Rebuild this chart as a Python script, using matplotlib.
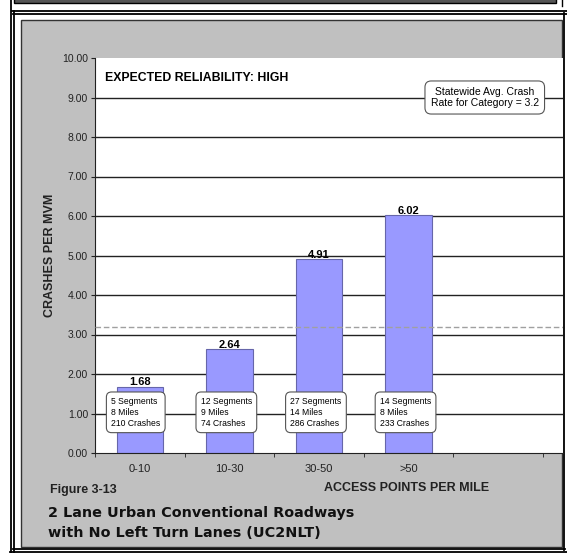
import matplotlib
matplotlib.use('Agg')
from matplotlib import pyplot as plt
from matplotlib.patches import Rectangle
from matplotlib.lines import Line2D

# chart data
categories = ['0-10', '10-30', '30-50', '>50']
crash_rate = [1.68, 2.64, 4.91, 6.02]
segments = [5, 12, 27, 14]
miles = [8, 9, 14, 8]
crashes = [210, 74, 286, 233]
statewide_avg = 3.2

W, H = 567, 553
fig = plt.figure(figsize=(W / 100, H / 100), dpi=100)
fig.patch.set_facecolor('white')


def px_rect(x0, y0, x1, y1, **kw):
    # rectangle in pixel coords, y measured from the top
    r = Rectangle((x0 / W, 1 - y1 / H), (x1 - x0) / W, (y1 - y0) / H,
                  transform=fig.transFigure, **kw)
    fig.add_artist(r)


def px_line(xs, ys, **kw):
    fig.add_artist(Line2D([x / W for x in xs], [1 - y / H for y in ys],
                          transform=fig.transFigure, **kw))


# frames around the figure
px_rect(14, -5, 556, 2.5, facecolor='#555555', edgecolor='black', lw=1)
px_line([562, 562], [0, 6], color='black', lw=1)
px_line([10.5, 10.5], [0, 553], color='black', lw=1.3)
px_line([13.5, 13.5], [11, 553], color='black', lw=1.3)
px_line([12, 567], [10.5, 10.5], color='black', lw=1.3)
px_line([13, 567], [13.5, 13.5], color='black', lw=1.3)
px_line([564, 564], [13, 550], color='black', lw=1.3)
px_line([13, 565], [549, 549], color='black', lw=1.3)
px_line([10, 567], [552, 552], color='black', lw=1.3)
px_rect(21, 19.5, 562, 547, facecolor='#C0C0C0', edgecolor='#333333', lw=1)

left, right, top, bottom = 95, 563, 58, 453
ax = fig.add_axes([left / W, 1 - bottom / H, (right - left) / W, (bottom - top) / H])
ax.set_facecolor('white')
ax.set_zorder(2)

xs = list(range(len(categories)))
ax.set_ylim(0, 10)
ax.set_xlim(-0.5, -0.5 + (right - left) / 89.6)
ax.set_yticks([i for i in range(11)])
ax.set_yticklabels(['{:.2f}'.format(i) for i in range(11)], fontsize=7.5,
                   family='Liberation Sans', color='#222222')
ax.set_xticks(xs)
ax.set_xticklabels(categories, fontsize=8, family='Liberation Sans', color='#222222')
ax.set_xticks([i - 0.5 for i in range(6)], minor=True)
ax.tick_params(axis='x', which='major', length=0, pad=8)
ax.tick_params(axis='x', which='minor', length=3, direction='out', color='#222222')
ax.tick_params(axis='y', length=3, direction='out', color='#222222', pad=2)

for y in range(1, 10):
    ax.axhline(y, color='#222222', lw=1, zorder=1)

ax.bar(xs, crash_rate, width=0.52, color='#9999FF', edgecolor='#6666AA', lw=0.8, zorder=2)
ax.axhline(statewide_avg, color='#A0A0A0', lw=1, ls=(0, (4, 2)), zorder=3)

for i, v in enumerate(crash_rate):
    ax.text(xs[i], v - 0.02, '{:.2f}'.format(v), ha='center', va='bottom',
            fontsize=8, fontweight='bold', family='Liberation Sans', zorder=5)
    info = f'{segments[i]} Segments\n{miles[i]} Miles\n{crashes[i]} Crashes'
    ax.text(xs[i] - 0.32, 1.03, info, ha='left', va='center', fontsize=6.2,
            family='Liberation Sans', linespacing=1.3, zorder=6,
            bbox=dict(boxstyle='round,pad=0.55,rounding_size=0.6', fc='white',
                      ec='#555555', lw=0.8))

ax.text(-0.39, 9.5, 'EXPECTED RELIABILITY: HIGH', ha='left', va='center',
        fontsize=8.8, fontweight='bold', family='Liberation Sans', zorder=5)
ax.text(3.85, 9.0, 'Statewide Avg. Crash\nRate for Category = 3.2', ha='center', va='center',
        fontsize=7.5, family='Liberation Sans', linespacing=1.2, zorder=6,
        bbox=dict(boxstyle='round,pad=0.55,rounding_size=0.6', fc='white', ec='#555555', lw=0.8))

for side in ['top', 'right']:
    ax.spines[side].set_visible(False)
ax.spines['left'].set_color('#222222')
ax.spines['bottom'].set_color('#222222')

ax.set_ylabel('CRASHES PER MVM', fontsize=9, fontweight='bold',
              family='Liberation Sans', color='#222222')
ax.yaxis.set_label_coords((56 - left) / (right - left), 0.5)
fig.text(407 / W, 1 - 488 / H, 'ACCESS POINTS PER MILE', ha='center', va='center',
         fontsize=9, fontweight='bold', family='Liberation Sans', color='#222222')
fig.text(50 / W, 1 - 490 / H, 'Figure 3-13', ha='left', va='center',
         fontsize=9, fontweight='bold', family='Liberation Sans', color='#222222')
fig.text(48 / W, 1 - 513 / H, '2 Lane Urban Conventional Roadways', ha='left', va='center',
         fontsize=10.4, fontweight='bold', family='DejaVu Sans', color='#111111')
fig.text(48 / W, 1 - 533 / H, 'with No Left Turn Lanes (UC2NLT)', ha='left', va='center',
         fontsize=10.4, fontweight='bold', family='DejaVu Sans', color='#111111')

plt.savefig('out.png', dpi=100)
